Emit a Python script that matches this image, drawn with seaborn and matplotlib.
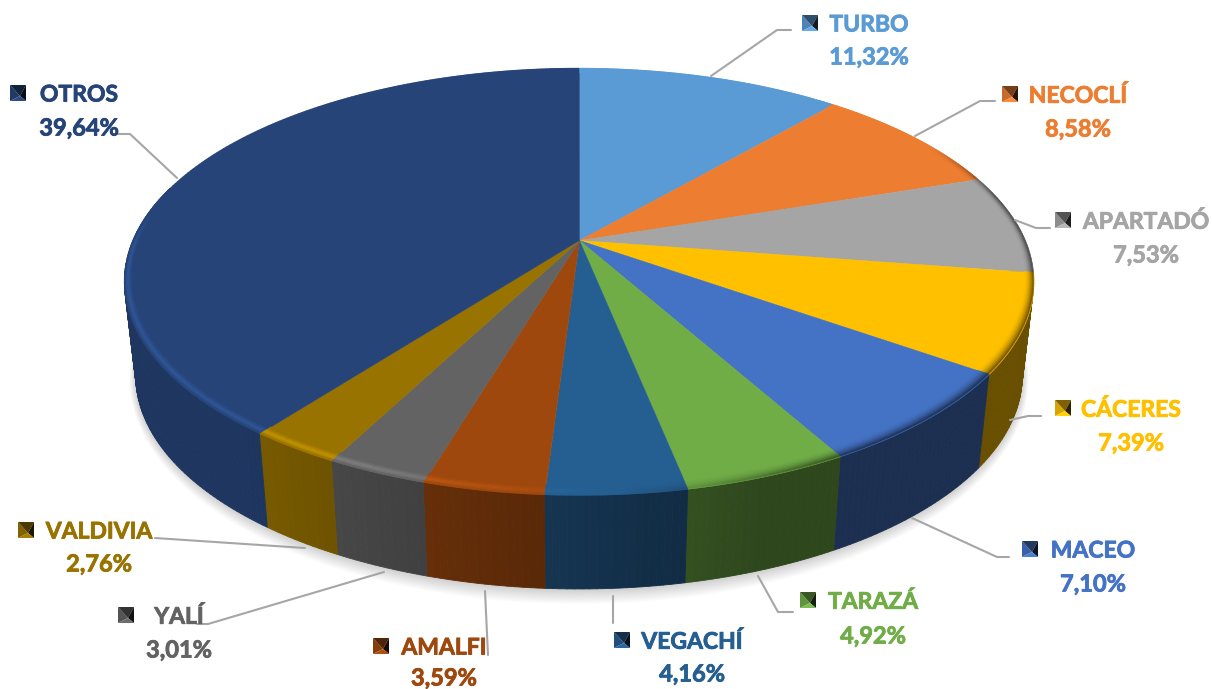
import numpy as np
import seaborn as sns
import matplotlib.pyplot as plt
import matplotlib.patheffects as pe
from matplotlib.collections import PolyCollection

# data
municipios = ['TURBO', 'NECOCLÍ', 'APARTADÓ', 'CÁCERES', 'MACEO', 'TARAZÁ',
              'VEGACHÍ', 'AMALFI', 'YALÍ', 'VALDIVIA', 'OTROS']
porcentajes = [11.32, 8.58, 7.53, 7.39, 7.10, 4.92, 4.16, 3.59, 3.01, 2.76, 39.64]
colores = ['#5B9BD5', '#ED7D31', '#A5A5A5', '#FFC000', '#4472C4', '#70AD47',
           '#255E91', '#9E480E', '#636363', '#997300', '#264478']

sns.set_theme(style='white')
plt.rcParams['font.family'] = ['Lato', 'DejaVu Sans']
palette = sns.color_palette(colores)

fig = plt.figure(figsize=(12.12, 6.89), dpi=100)
ax = fig.add_axes([0, 0, 1, 1])


# perspective of the pie disc, angle clockwise from the top
def project(theta, r=1.0):
    w = 1 + 0.1944 * r * np.cos(theta)
    return (579 + 446 * r * np.sin(theta) / w,
            240 - 205.4 * r * np.cos(theta) / w)


# same point on the lower face of the disc
def lower(x, y):
    return 579 + (x - 579) * 0.975, y + 94


def mix(color, factor):
    return tuple(np.clip(np.array(color) * factor, 0, 1))


def add_polys(polys, cols, lw=0.6, z=2):
    ax.add_collection(PolyCollection(polys, facecolors=cols, edgecolors=cols,
                                     linewidths=lw, zorder=z))


# soft shadow under the disc
full = np.linspace(0, 2 * np.pi, 361)
sx, sy = lower(*project(full))
for k in np.arange(24, 0, -1):
    ox = 579 + (sx - 579) * (1 + k * 0.0006)
    oy = 300 + (sy - 300) * (1 + k * 0.0022)
    ax.fill(ox, oy, color='#000000', alpha=0.009, lw=0, zorder=1)

edges = np.cumsum([0] + porcentajes) / 100 * 2 * np.pi

# side wall, only the part turned to the viewer
polys, cols = [], []
for i, c in enumerate(palette):
    t = np.linspace(edges[i], edges[i + 1], max(int(porcentajes[i] * 5), 4))
    for a, b in zip(t[:-1], t[1:]):
        if np.degrees(a) < 85 or np.degrees(a) > 285:
            continue
        x0, y0 = project(a)
        x1, y1 = project(b)
        x2, y2 = lower(x1, y1)
        x3, y3 = lower(x0, y0)
        f = np.clip(0.41 + (np.degrees(a) - 160) * 0.34 / 52, 0.41, 0.8)
        polys.append([(x0, y0), (x1, y1), (x2, y2), (x3, y3)])
        cols.append(mix(c, f))
add_polys(polys, cols, z=2)

# top face
for i, c in enumerate(palette):
    t = np.linspace(edges[i], edges[i + 1], max(int(porcentajes[i] * 5), 4))
    x, y = project(t)
    add_polys([np.column_stack([np.r_[579, x], np.r_[240, y]])], [c], lw=0.3, z=3)

# bevel along the rim: dark on the right, lit on the left
steps = np.linspace(0, 1, 8)
polys, cols = [], []
for i, c in enumerate(palette):
    t = np.linspace(edges[i], edges[i + 1], max(int(porcentajes[i] * 5), 4))
    for a, b in zip(t[:-1], t[1:]):
        m = (a + b) / 2
        light = np.sin(m - np.radians(176))
        light *= np.clip((0.15 - np.cos(m)) / 0.4, 0, 1) if light > 0 else np.clip((0.5 - np.cos(m)) / 0.6, 0, 1)
        # band keeps about the same width in pixels all round
        width = 0.017 + 0.015 * abs(np.cos(m))
        for s0, s1 in zip(steps[:-1], steps[1:]):
            p = (s0 + s1) / 2
            if light > 0:
                f = 1 + 0.26 * min(light * 2.2, 1) * np.sin(np.pi * p ** 1.5) ** 2
            else:
                f = 1 - 0.6 * min(-light * 2.2, 1) * p ** 2
            r0, r1 = 1 - width * (1 - s0), 1 - width * (1 - s1)
            xa, ya = project(a, r0)
            xb, yb = project(b, r0)
            xc, yc = project(b, r1)
            xd, yd = project(a, r1)
            polys.append([(xa, ya), (xb, yb), (xc, yc), (xd, yd)])
            cols.append(mix(c, f))
add_polys(polys, cols, lw=0.3, z=4)

# leader lines
leaders = [
    ([711, 777, 791], [76, 30, 30]),
    ([915, 980, 995], [136, 101, 101]),
    ([1015, 1036, 1050], [220, 228, 228]),
    ([1010, 1028, 1041], [420, 416, 416]),
    ([912, 997, 1009], [518, 557, 557]),
    ([758, 778, 793], [576, 612, 612]),
    ([613, 613], [596, 623]),
    ([485, 488], [591, 655]),
    ([384, 208, 197], [572, 624, 624]),
    ([305, 155], [548, 538]),
    ([177, 130, 118], [178, 134, 134]),
]
for lx, ly in leaders:
    sns.lineplot(x=lx, y=ly, sort=False, estimator=None, color='#A6A6A6',
                 linewidth=1.5, ax=ax, zorder=5)

# labels: marker x, name y, text x, value y
marker_x = [810, 1010, 1063, 1063, 1030, 808, 622, 381, 126, 26, 18]
text_x = [869, 1078, 1146, 1131, 1093, 873, 692, 444, 179, 99, 79]
name_y = [25, 96, 222, 410, 551, 602, 642, 648, 617, 532, 95]
value_y = [57, 129, 255, 443, 584, 636, 674, 678, 650, 564, 128]

for i, c in enumerate(palette):
    mx, my, h = marker_x[i], name_y[i] - 2, 8
    cx, cy = mx + 2, my + 3
    sides = [([mx - h, mx - h, cx], [my - h, my + h, cy], 0.85),
             ([mx - h, mx + h, cx], [my - h, my - h, cy], 0.5),
             ([mx + h, mx + h, cx], [my - h, my + h, cy], 0.18),
             ([mx - h, mx + h, cx], [my + h, my + h, cy], 1.1)]
    for px, py, f in sides:
        ax.fill(px, py, color=mix(c, f), lw=0, zorder=6)
    fat = [pe.withStroke(linewidth=0.6, foreground=c)]
    ax.text(text_x[i], name_y[i], municipios[i], color=c, fontsize=16.5, fontweight='bold',
            ha='center', va='center', zorder=7, path_effects=fat)
    ax.text(text_x[i], value_y[i], f'{porcentajes[i]:.2f}%'.replace('.', ','), color=c,
            fontsize=17, fontweight='bold', ha='center', va='center', zorder=7, path_effects=fat)

ax.set_xlim(0, 1212)
ax.set_ylim(689, 0)
ax.axis('off')
fig.savefig('out.png', dpi=100, facecolor='white')
